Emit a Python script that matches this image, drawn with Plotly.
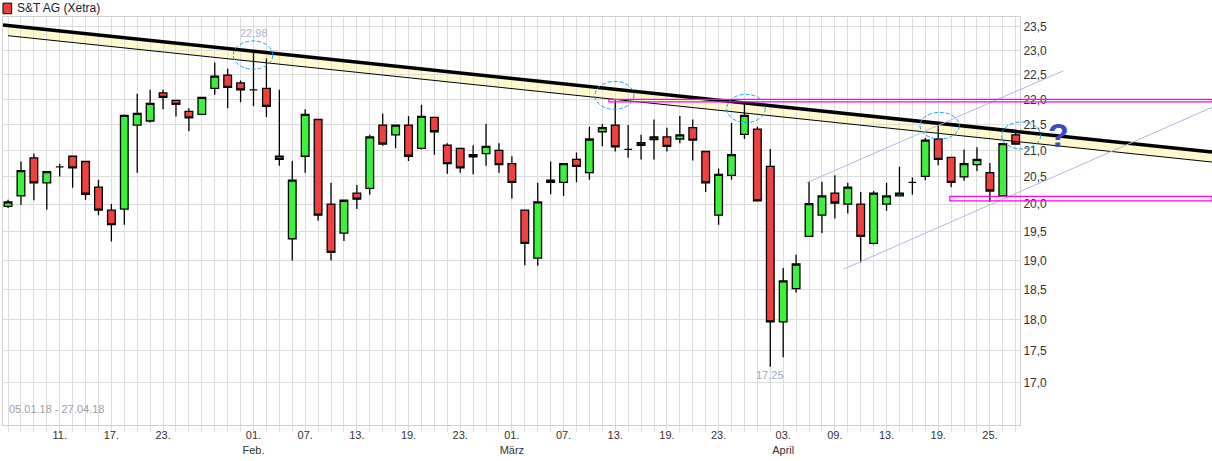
import math
import pandas as pd
import plotly.graph_objects as go

# Handelstage 05.01.18 - 27.04.18 (Xetra)
dates = [d for d in pd.bdate_range("2018-01-05", "2018-04-27")
         if d.strftime("%Y-%m-%d") not in ("2018-03-30", "2018-04-02")]
idx = list(range(len(dates)))

open_ = [19.96, 20.15, 20.86, 20.39, 20.69, 20.89, 20.79, 20.31, 19.89, 19.91,
         21.49, 21.57, 22.13, 21.98, 21.76, 21.70, 22.22, 22.49, 22.33, 22.19,
         22.22, 20.89, 19.38, 20.89, 21.60, 20.00, 19.48, 20.20, 20.29, 21.49,
         21.30, 21.49, 21.04, 21.64, 21.10, 21.04, 20.88, 20.94, 21.00, 20.75,
         19.89, 19.04, 20.40, 20.40, 20.83, 20.58, 21.36, 21.49, 21.02, 21.15,
         21.21, 21.26, 21.22, 21.44, 20.98, 19.80, 20.53, 21.31, 21.41, 20.70,
         17.97, 18.52, 19.42, 19.80, 20.20, 20.00, 20.00, 19.30, 20.00, 20.15,
         20.40, 20.51, 21.22, 20.87, 20.50, 20.73, 20.58, 20.15, 21.30]
high = [20.08, 20.79, 20.94, 20.60, 20.75, 20.89, 20.79, 20.45, 20.00, 21.70,
        22.11, 22.19, 22.19, 21.98, 21.82, 22.04, 22.75, 22.62, 22.38, 22.98,
        22.83, 22.19, 20.80, 21.80, 21.60, 20.39, 20.07, 20.35, 21.30, 21.72,
        21.49, 21.67, 21.89, 21.64, 21.14, 21.04, 21.10, 21.51, 21.14, 20.89,
        19.89, 20.39, 20.79, 20.75, 20.96, 21.46, 21.51, 21.98, 21.49, 21.30,
        21.60, 21.44, 21.67, 21.60, 20.98, 20.66, 21.53, 21.92, 21.46, 21.03,
        18.87, 19.10, 20.41, 20.41, 20.53, 20.39, 20.22, 20.24, 20.39, 20.69,
        20.49, 21.24, 21.49, 20.87, 21.02, 21.06, 20.76, 21.13, 21.38]
low = [19.93, 19.99, 20.07, 19.90, 20.51, 20.30, 20.08, 19.80, 19.33, 19.63,
       20.58, 21.54, 21.80, 21.66, 21.37, 21.70, 22.09, 21.82, 21.94, 21.86,
       21.65, 20.71, 19.00, 20.58, 19.70, 19.00, 19.34, 19.91, 20.17, 21.09,
       21.04, 20.80, 21.02, 20.92, 20.56, 20.58, 20.55, 20.71, 20.58, 20.10,
       18.92, 18.91, 20.18, 20.15, 20.40, 20.45, 21.08, 20.98, 20.86, 20.83,
       20.83, 20.98, 21.14, 20.81, 20.22, 19.63, 20.45, 21.22, 20.06, 17.25,
       17.40, 18.45, 19.42, 19.48, 19.74, 19.83, 18.97, 19.28, 19.88, 20.15,
       20.17, 20.44, 20.72, 20.31, 20.43, 20.61, 20.04, 20.13, 21.12]
close = [20.04, 20.62, 20.39, 20.60, 20.69, 20.67, 20.18, 19.89, 19.63, 21.68,
         21.72, 21.92, 22.04, 21.90, 21.63, 22.04, 22.47, 22.24, 22.19, 22.19,
         21.86, 20.83, 20.44, 21.70, 19.80, 19.14, 20.07, 20.09, 21.26, 21.12,
         21.49, 20.89, 21.66, 21.36, 20.75, 20.67, 20.92, 21.08, 20.73, 20.40,
         19.30, 20.04, 20.44, 20.75, 20.70, 21.22, 21.44, 21.07, 21.02, 21.10,
         21.26, 21.08, 21.30, 21.20, 20.39, 20.55, 20.92, 21.68, 20.06, 17.97,
         18.65, 18.94, 20.01, 20.15, 20.02, 20.31, 19.42, 20.20, 20.15, 20.20,
         20.40, 21.20, 20.83, 20.40, 20.75, 20.83, 20.24, 21.13, 21.12]

tick_idx = [4, 8, 12, 19, 23, 27, 31, 35, 39, 43, 47, 51, 55, 60, 64, 68, 72, 76]
tick_text = ["11.", "17.", "23.", "01.<br>Feb.", "07.", "13.", "19.", "23.",
             "01.<br>März", "07.", "13.", "19.", "23.", "03.<br>April", "09.",
             "13.", "19.", "25."]
y_ticks = [17.0, 17.5, 18.0, 18.5, 19.0, 19.5, 20.0, 20.5, 21.0, 21.5,
           22.0, 22.5, 23.0, 23.5]

X_RANGE = [-0.39, 78.33]
Y_RANGE = [16.36, 23.71]
X_END = 93.19  # rechter Bildrand


def px(i):
    return (i - X_RANGE[0]) / (X_RANGE[1] - X_RANGE[0])


def py(v):
    lo, hi = math.log10(Y_RANGE[0]), math.log10(Y_RANGE[1])
    return (math.log10(v) - lo) / (hi - lo)


fig = go.Figure(go.Candlestick(
    x=idx, open=open_, high=high, low=low, close=close,
    increasing=dict(fillcolor="#3cf03c", line=dict(color="black", width=1.3)),
    decreasing=dict(fillcolor="#f04040", line=dict(color="black", width=1.3)),
    whiskerwidth=0, showlegend=False, hoverinfo="skip",
))

shapes = []
# Trendkanal (gelb)
t_top = [(-0.39, 23.54), (X_END, 20.97)]
t_bot = [(0, 23.31), (X_END, 20.78)]
path = "M {} {} L {} {} L {} {} L {} {} Z".format(
    px(t_top[0][0]), py(t_top[0][1]), px(t_top[1][0]), py(t_top[1][1]),
    px(t_bot[1][0]), py(t_bot[1][1]), px(t_bot[0][0]), py(t_bot[0][1]))
shapes.append(dict(type="path", path=path, xref="paper", yref="paper",
                   fillcolor="rgba(255,250,200,0.9)", line=dict(width=0), layer="below"))
shapes.append(dict(type="line", xref="paper", yref="paper",
                   x0=px(t_bot[0][0]), y0=py(t_bot[0][1]), x1=px(t_bot[1][0]), y1=py(t_bot[1][1]),
                   line=dict(color="black", width=1)))
shapes.append(dict(type="line", xref="paper", yref="paper",
                   x0=px(t_top[0][0]), y0=py(t_top[0][1]), x1=px(t_top[1][0]), y1=py(t_top[1][1]),
                   line=dict(color="black", width=3.5)))

# Aufwärtskanal (lila)
for a, b in [((61.8, 20.39), (81.7, 22.58)), ((64.65, 18.85), (X_END, 21.84))]:
    shapes.append(dict(type="line", xref="paper", yref="paper",
                       x0=px(a[0]), y0=py(a[1]), x1=px(b[0]), y1=py(b[1]),
                       line=dict(color="#b4b4e6", width=1)))

# Magenta Linien
for x0, v0, v1 in [(46.5, 22.0, 21.95), (72.9, 20.14, 20.06)]:
    shapes.append(dict(type="rect", xref="paper", yref="paper",
                       x0=px(x0), x1=px(X_END), y0=py(v1), y1=py(v0),
                       line=dict(color="#ff00ff", width=1.2)))

# Markierungen (Ellipsen)
ellipses = [(17.44, 20.49, 23.20, 22.61), (45.43, 48.45, 22.36, 21.80),
            (55.63, 58.61, 22.10, 21.54), (70.59, 73.63, 21.74, 21.22),
            (76.91, 79.93, 21.55, 21.03)]
for a, b, top, bot in ellipses:
    shapes.append(dict(type="circle", xref="paper", yref="paper",
                       x0=px(a), x1=px(b), y0=py(bot), y1=py(top),
                       line=dict(color="#1ea0e6", width=1, dash="4px,2px")))

# Legenden-Kästchen
shapes.append(dict(type="rect", xref="paper", yref="paper",
                   x0=-0.0, x1=0.0085, y0=1.008, y1=1.034,
                   fillcolor="#f04040", line=dict(color="black", width=1)))

annotations = [
    dict(x=0.012, y=1.021, xref="paper", yref="paper", text="S&T AG (Xetra)",
         showarrow=False, xanchor="left", yanchor="middle",
         font=dict(size=12, color="#222")),
    dict(x=0.004, y=0.02, xref="paper", yref="paper", text="05.01.18 - 27.04.18",
         showarrow=False, xanchor="left", yanchor="bottom",
         font=dict(size=11, color="#a0a0a0")),
    dict(x=19, y=math.log10(23.2), text="22,98", showarrow=False, yanchor="bottom",
         font=dict(size=11, color="#a8b4c8")),
    dict(x=59, y=math.log10(17.25), text="17,25", showarrow=False, yanchor="top",
         font=dict(size=11, color="#a0a8b8")),
    dict(x=px(82.3), y=py(21.7), xref="paper", yref="paper", text="<b>?</b>",
         showarrow=False, font=dict(size=34, color="#4646c8", family="Liberation Sans")),
]

fig.update_layout(
    width=1212, height=461,
    margin=dict(l=3, r=192, t=17, b=36),
    plot_bgcolor="white", paper_bgcolor="white",
    font=dict(family="Liberation Sans, Arial", size=11, color="#333"),
    shapes=shapes, annotations=annotations, boxgap=0.15,
    xaxis=dict(range=X_RANGE, rangeslider=dict(visible=False),
               tickvals=tick_idx, ticktext=tick_text, showgrid=False,
               ticks="", zeroline=False, showline=True, linecolor="#d0d0d0",
               mirror=True, tickfont=dict(size=11, color="#333"),
               minor=dict(dtick=1, tick0=0, showgrid=True, gridcolor="#dcdcdc",
                          ticks="outside", ticklen=6, tickcolor="#dcdcdc")),
    yaxis=dict(type="log", side="right",
               range=[math.log10(Y_RANGE[0]), math.log10(Y_RANGE[1])],
               tickvals=y_ticks, ticktext=[f"{v:.1f}".replace(".", ",") for v in y_ticks],
               gridcolor="#dcdcdc", showline=True, linecolor="#d0d0d0", mirror=True,
               zeroline=False, tickfont=dict(size=12, color="#333")),
)

fig.write_html("out.html", config={"displayModeBar": False},
               post_script="document.body.style.margin='0';")
